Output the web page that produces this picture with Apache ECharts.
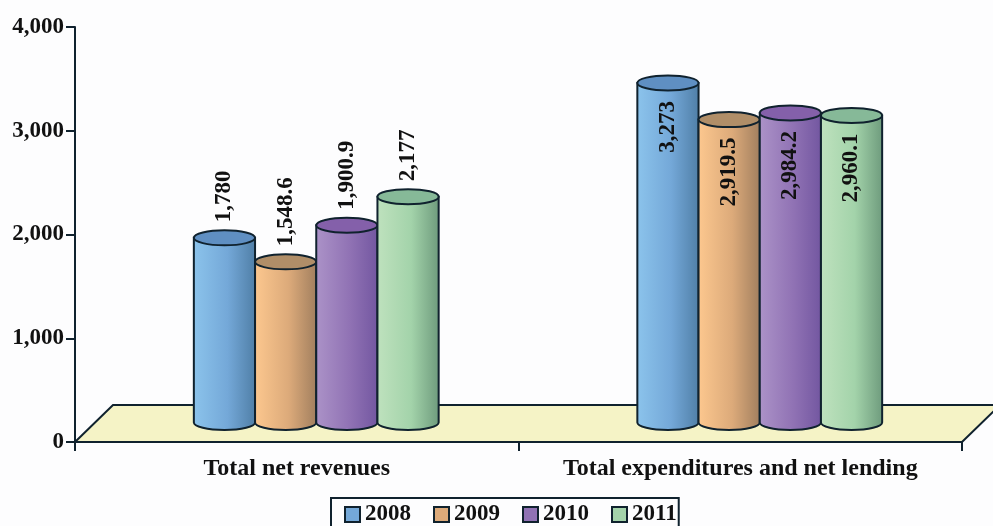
<!DOCTYPE html>
<html>
<head>
<meta charset="utf-8">
<style>
  html, body { margin: 0; padding: 0; background: #fdfdfe; overflow: hidden; }
  #chart { width: 993px; height: 526px; }
</style>
<script src="https://cdn.jsdelivr.net/npm/echarts@6/dist/echarts.min.js"></script>
</head>
<body>
<div id="chart"></div>
<script>
const categories = ["Total net revenues", "Total expenditures and net lending"];
const years = ["2008", "2009", "2010", "2011"];
const values2008 = [1780, 3273];
const values2009 = [1548.6, 2919.5];
const values2010 = [1900.9, 2984.2];
const values2011 = [2177, 2960.1];
const yTicks = [0, 1000, 2000, 3000, 4000];

const seriesValues = [values2008, values2009, values2010, values2011];
// left edge, middle, right edge, top cap
const palette = [
  ["#8cc4ec", "#74a8d8", "#4f7ea6", "#5f8fc2"],
  ["#fdc88f", "#dcaa7a", "#a07e5e", "#b08e68"],
  ["#ac93c8", "#9072b4", "#7256a0", "#8460aa"],
  ["#bfe2be", "#a3d3aa", "#6d9a7c", "#86b998"],
];

const FONT = "Liberation Serif";
const INK = "#10222e";
const DEPTH_X = 19.5;
const DEPTH_Y = 19.5;
const BAR_RATIO = 0.138;
const CAP_RY = 7.5;

const drawFloor = (params) => {
  const g = params.coordSys;
  const bottom = g.y + g.height;
  return {
    type: "polygon",
    silent: true,
    shape: {
      points: [
        [g.x, bottom],
        [g.x + 38, bottom - 37],
        [g.x + g.width + 38, bottom - 37],
        [g.x + g.width, bottom],
      ],
    },
    style: { fill: "#f5f3c6", stroke: INK, lineWidth: 2 },
  };
};

const drawCylinder = (seriesIndex) => (params, api) => {
  const colors = palette[seriesIndex];
  const value = api.value(1);
  const bandWidth = api.size([1, 0])[0];
  const barWidth = bandWidth * BAR_RATIO;
  const rx = barWidth / 2;
  const base = api.coord([api.value(0), 0]);
  const top = api.coord([api.value(0), value]);
  const cx = base[0] + DEPTH_X + (seriesIndex - 1.5) * barWidth;
  const yBase = base[1] - DEPTH_Y;
  const yTop = top[1] - DEPTH_Y;
  const x0 = cx - rx;
  const x1 = cx + rx;

  const text = value.toLocaleString("en-US", { maximumFractionDigits: 1 });
  const inside = value > 2500;

  return {
    type: "group",
    children: [
      {
        type: "path",
        shape: {
          pathData: `M${x0} ${yTop}L${x0} ${yBase}A${rx} ${CAP_RY} 0 0 0 ${x1} ${yBase}L${x1} ${yTop}Z`,
          x: x0,
          y: yTop,
          width: barWidth,
          height: yBase - yTop + CAP_RY,
        },
        style: {
          fill: {
            type: "linear", x: 0, y: 0, x2: 1, y2: 0,
            colorStops: [
              { offset: 0, color: colors[0] },
              { offset: 0.55, color: colors[1] },
              { offset: 1, color: colors[2] },
            ],
          },
          stroke: INK,
          lineWidth: 2,
        },
      },
      {
        type: "ellipse",
        shape: { cx: cx, cy: yTop, rx: rx, ry: CAP_RY },
        style: { fill: colors[3], stroke: INK, lineWidth: 2 },
      },
      {
        type: "text",
        x: cx,
        y: inside ? yTop + 18 : yTop - CAP_RY - 8,
        rotation: Math.PI / 2,
        style: {
          text: text,
          fontFamily: FONT,
          fontWeight: "bold",
          fontSize: 23,
          fill: "#111",
          align: inside ? "right" : "left",
          verticalAlign: "middle",
        },
      },
    ],
  };
};

const chart = echarts.init(document.getElementById("chart"));

chart.setOption({
  animation: false,
  backgroundColor: "#fdfdfe",
  legend: {
    data: years,
    left: 331,
    top: 498,
    padding: [5, 2, 10, 13],
    itemGap: 22,
    itemWidth: 15,
    itemHeight: 15,
    borderColor: INK,
    borderWidth: 2,
    icon: "rect",
    itemStyle: { borderColor: INK, borderWidth: 2 },
    textStyle: { fontFamily: FONT, fontWeight: "bold", fontSize: 23, color: "#111" },
  },
  grid: { left: 75, right: 31, top: 27, bottom: 84 },
  xAxis: {
    type: "category",
    data: categories,
    axisLine: { lineStyle: { color: INK, width: 2 } },
    axisTick: { show: true, interval: 0, length: 9, lineStyle: { color: INK, width: 2 } },
    axisLabel: { interval: 0, fontFamily: FONT, fontWeight: "bold", fontSize: 24, color: "#111", margin: 15 },
  },
  yAxis: {
    type: "value",
    min: yTicks[0],
    max: yTicks[yTicks.length - 1],
    interval: 1000,
    splitLine: { show: false },
    axisLine: { show: true, lineStyle: { color: INK, width: 2 } },
    axisTick: { show: true, length: 9, lineStyle: { color: INK, width: 2 } },
    axisLabel: { fontFamily: FONT, fontWeight: "bold", fontSize: 23, color: "#111", margin: 11 },
  },
  series: [
    {
      type: "custom",
      name: "floor",
      coordinateSystem: "cartesian2d",
      clip: false,
      silent: true,
      z: 1,
      data: [[0, 0]],
      renderItem: drawFloor,
    },
    ...years.map((year, i) => ({
      type: "custom",
      name: year,
      coordinateSystem: "cartesian2d",
      clip: false,
      z: 3 + i,
      itemStyle: { color: palette[i][1] },
      encode: { x: 0, y: 1 },
      data: seriesValues[i].map((v, c) => [c, v]),
      renderItem: drawCylinder(i),
    })),
  ],
});

window.addEventListener("resize", () => chart.resize());
</script>
</body>
</html>
